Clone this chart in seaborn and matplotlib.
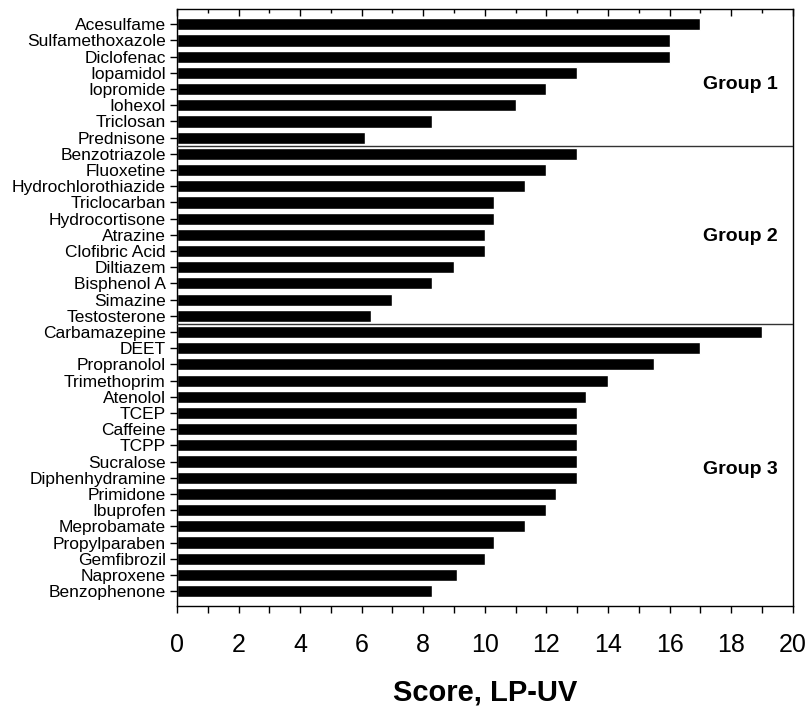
import matplotlib
matplotlib.use("Agg")
import matplotlib.pyplot as plt
from matplotlib.ticker import MultipleLocator
import pandas as pd
import seaborn as sns

# Compounds, ordered top to bottom within each group
group1 = ["Acesulfame", "Sulfamethoxazole", "Diclofenac", "Iopamidol", "Iopromide",
          "Iohexol", "Triclosan", "Prednisone"]
group1_scores = [17.0, 16.0, 16.0, 13.0, 12.0, 11.0, 8.3, 6.1]

group2 = ["Benzotriazole", "Fluoxetine", "Hydrochlorothiazide", "Triclocarban",
          "Hydrocortisone", "Atrazine", "Clofibric Acid", "Diltiazem", "Bisphenol A",
          "Simazine", "Testosterone"]
group2_scores = [13.0, 12.0, 11.3, 10.3, 10.3, 10.0, 10.0, 9.0, 8.3, 7.0, 6.3]

group3 = ["Carbamazepine", "DEET", "Propranolol", "Trimethoprim", "Atenolol", "TCEP",
          "Caffeine", "TCPP", "Sucralose", "Diphenhydramine", "Primidone", "Ibuprofen",
          "Meprobamate", "Propylparaben", "Gemfibrozil", "Naproxene", "Benzophenone"]
group3_scores = [19.0, 17.0, 15.5, 14.0, 13.3, 13.0, 13.0, 13.0, 13.0, 13.0, 12.3,
                 12.0, 11.3, 10.3, 10.0, 9.1, 8.3]

group_names = ["Group 1", "Group 2", "Group 3"]
x_ticks = [0, 2, 4, 6, 8, 10, 12, 14, 16, 18, 20]
x_label = "Score, LP-UV"

df = pd.DataFrame({
    "compound": group1 + group2 + group3,
    "score": group1_scores + group2_scores + group3_scores,
})

sns.set_theme(style="white")
plt.rcParams["font.family"] = ["Liberation Sans", "DejaVu Sans"]
plt.rcParams["text.color"] = "black"
plt.rcParams["xtick.color"] = "black"
plt.rcParams["ytick.color"] = "black"
plt.rcParams["axes.labelcolor"] = "black"

fig = plt.figure(figsize=(8.08, 7.09), dpi=100)
ax = fig.add_axes([0.219, 0.145, 0.762, 0.842])

sns.barplot(data=df, x="score", y="compound", orient="h", color="black",
            width=0.75, saturation=1, ax=ax, order=list(df["compound"]))

n = len(df)
ax.set_ylim(n - 1 + 0.93, -0.93)
ax.set_xlim(0, 20)

# Separators between groups
b1 = len(group1) - 0.5
b2 = len(group1) + len(group2) - 0.5
for yb in (b1, b2):
    ax.axhline(yb, color="#333333", lw=1.0, zorder=3)

# Group labels at the right
label_rows = [3.7, 13.1, 27.5]
for name, yy in zip(group_names, label_rows):
    ax.text(19.5, yy, name, ha="right", va="center", fontsize=14,
            fontweight="bold", color="black")

ax.set_xticks(x_ticks)
ax.set_xticklabels([str(t) for t in x_ticks])
ax.xaxis.set_minor_locator(MultipleLocator(1))
ax.tick_params(axis="x", which="both", bottom=True, top=False, direction="out",
               length=5, width=1, labelsize=18, pad=14, color="black",
               labelcolor="black")
ax.tick_params(axis="y", which="major", left=True, direction="out", length=5,
               width=1, labelsize=12.5, pad=3, color="black", labelcolor="black")

# Secondary top ticks drawn inward
top = ax.secondary_xaxis("top")
top.set_xticks(x_ticks)
top.xaxis.set_minor_locator(MultipleLocator(1))
top.tick_params(axis="x", which="major", direction="in", length=5, width=1,
                labeltop=False, color="black")
top.tick_params(axis="x", which="minor", direction="in", length=3, width=1,
                color="black")
top.spines["top"].set_visible(False)

ax.set_ylabel("")
ax.set_xlabel(x_label, fontsize=21, fontweight="bold", labelpad=16, color="black")

for s in ax.spines.values():
    s.set_visible(True)
    s.set_color("black")
    s.set_linewidth(1)

fig.savefig("out.png", dpi=100)
